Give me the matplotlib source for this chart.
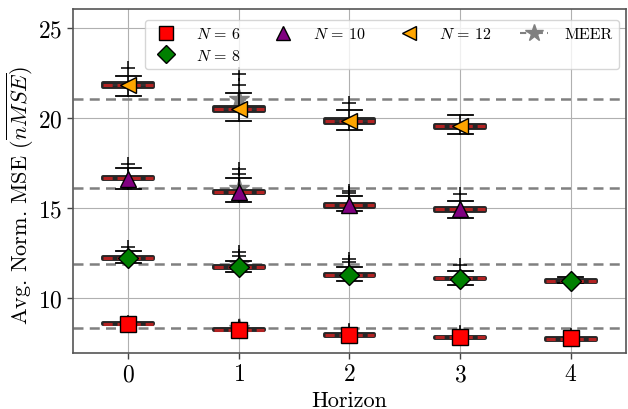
import matplotlib
matplotlib.use("Agg")
import matplotlib.pyplot as plt
from matplotlib.lines import Line2D

plt.rcParams["font.family"] = ["cmr10", "DejaVu Serif"]
plt.rcParams["mathtext.fontset"] = "cm"
plt.rcParams["axes.unicode_minus"] = False
plt.rcParams["axes.formatter.use_mathtext"] = True

horizons = [0, 1, 2, 3, 4]
n_labels = [r"$N\,=\,6$", r"$N\,=\,8$", r"$N\,=\,10$", r"$N\,=\,12$"]

# box statistics per N (one value per horizon)
med = {
    6: [8.56, 8.22, 7.94, 7.82, 7.72],
    8: [12.20, 11.70, 11.28, 11.08, 10.96],
    10: [16.65, 15.88, 15.14, 14.91],
    12: [21.83, 20.50, 19.83, 19.52],
}
q1 = {
    6: [8.53, 8.19, 7.91, 7.79, 7.69],
    8: [12.15, 11.65, 11.23, 11.03, 10.91],
    10: [16.58, 15.81, 15.07, 14.84],
    12: [21.73, 20.40, 19.73, 19.42],
}
q3 = {
    6: [8.59, 8.25, 7.97, 7.85, 7.75],
    8: [12.25, 11.75, 11.33, 11.13, 11.01],
    10: [16.72, 15.95, 15.21, 14.98],
    12: [21.93, 20.60, 19.93, 19.62],
}
whislo = {
    6: [8.20, 7.90, 7.70, 7.60, 7.50],
    8: [11.94, 11.43, 10.96, 10.74, 10.80],
    10: [16.04, 15.32, 14.85, 14.46],
    12: [21.20, 19.80, 19.35, 19.11],
}
whishi = {
    6: [9.00, 8.80, 8.55, 8.45, 8.25],
    8: [12.63, 12.07, 11.70, 11.52, 11.15],
    10: [17.20, 16.65, 15.65, 15.39],
    12: [22.32, 21.39, 20.46, 20.13],
}
fliers = {
    6: [[], [], [], [], []],
    8: [[12.83], [12.54, 12.35], [12.17, 11.98], [11.80], []],
    10: [[17.44], [17.17, 16.89], [15.96, 15.85], [15.78]],
    12: [[22.76], [22.44, 21.80], [20.83], []],
}
mean = {
    6: [8.56, 8.24, 7.96, 7.85, 7.76],
    8: [12.20, 11.69, 11.28, 11.06, 10.94],
    10: [16.61, 15.89, 15.17, 14.93],
    12: [21.83, 20.50, 19.83, 19.52],
}

meer = [8.32, 11.89, 16.12, 21.02]
meer_star_x = 1

styles = {
    6: dict(marker="s", color="red", ms=11),
    8: dict(marker="D", color="green", ms=10),
    10: dict(marker="^", color="purple", ms=11),
    12: dict(marker="<", color="orange", ms=11),
}

fig = plt.figure(figsize=(6.28, 4.10), dpi=100)
ax = fig.add_axes([0.116, 0.137, 0.881, 0.839])

for v in meer:
    ax.axhline(v, color="gray", ls=(0, (4, 2.5)), lw=1.8, zorder=1)
    ax.plot(meer_star_x, v, marker="*", color="gray", ms=15, ls="none", zorder=2)

for n in [6, 8, 10, 12]:
    nh = len(med[n])
    stats = []
    for i in range(nh):
        stats.append(dict(med=med[n][i], q1=q1[n][i], q3=q3[n][i],
                          whislo=whislo[n][i], whishi=whishi[n][i],
                          fliers=fliers[n][i]))
    ax.bxp(stats, positions=horizons[:nh], widths=0.45, patch_artist=True,
           manage_ticks=False, showcaps=(n != 6),
           boxprops=dict(facecolor="white", edgecolor="#262626", linewidth=2.8,
                         joinstyle="round"),
           medianprops=dict(color="#b22222", linewidth=2.2, ls=(0, (3, 1.6))),
           whiskerprops=dict(color="black", linewidth=1.2),
           capprops=dict(color="black", linewidth=1.3),
           flierprops=dict(marker="+", markeredgecolor="black", markersize=10,
                           markeredgewidth=1.1))
    st = styles[n]
    ax.plot(horizons[:nh], mean[n], ls="none", marker=st["marker"],
            color=st["color"], ms=st["ms"], markeredgecolor="black",
            markeredgewidth=1.0, zorder=5)

handles = []
for n, lab in zip([6, 8, 10, 12], n_labels):
    st = styles[n]
    handles.append(Line2D([], [], ls="none", marker=st["marker"], color=st["color"],
                          ms=st["ms"] - 1, markeredgecolor="black", label=lab))
handles.append(Line2D([], [], ls=(0, (3, 2, 1, 2)), color="gray", marker="*",
                      ms=13, lw=1.5, label="MEER"))
ax.legend(handles=handles, ncol=4, loc="upper right", fontsize=11.5,
          bbox_to_anchor=(0.987, 0.968), borderaxespad=0, handlelength=1.8,
          handletextpad=1.0, columnspacing=1.75, labelspacing=0.4,
          framealpha=0.8)

ax.set_xlim(-0.5, 4.5)
ax.set_ylim(6.95, 26.05)
ax.set_xticks(horizons)
ax.set_yticks([10, 15, 20, 25])
ax.tick_params(labelsize=17, length=4, width=1, colors="#444444", labelcolor="black")
ax.grid(True, color="#b0b0b0", linewidth=0.8, zorder=0)
ax.set_axisbelow(True)
for s in ax.spines.values():
    s.set_color("#555555")
    s.set_linewidth(1.2)

ax.set_xlabel("Horizon", fontsize=16)
ax.set_ylabel(r"Avg. Norm. MSE ($\overline{nMSE}$)", fontsize=16)
ax.yaxis.set_label_coords(-0.066, 0.46)

fig.savefig("out.png", dpi=100)
